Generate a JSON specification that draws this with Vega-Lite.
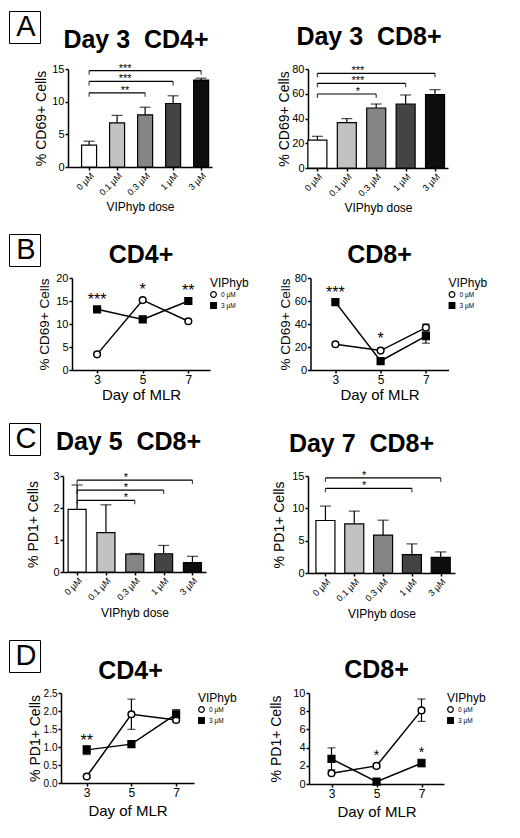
{
  "$schema": "https://vega.github.io/schema/vega-lite/v6.json",
  "background": "white",
  "padding": {"left": 8, "top": 10, "right": 0, "bottom": 0},
  "config": {
    "font": "Liberation Sans",
    "view": {"stroke": null},
    "axis": {
      "grid": false, "domainColor": "black", "domainWidth": 1.5, "tickColor": "black", "tickWidth": 1.5,
      "tickSize": 3, "labelPadding": 1, "labelColor": "black", "titleColor": "black", "labelFontSize": 11,
      "titleFontWeight": "normal", "labelFont": "Liberation Sans", "titleFont": "Liberation Sans"
    },
    "title": {"fontSize": 25, "fontWeight": "bold", "color": "black", "frame": "group", "anchor": "middle"},
    "legend": {
      "titleFontSize": 12, "titleFontWeight": "normal", "titleColor": "black", "labelFontSize": 6.5,
      "labelColor": "black", "symbolSize": 32, "symbolStrokeWidth": 1.2, "symbolStrokeColor": "black",
      "rowPadding": 0, "titlePadding": 1, "padding": 0, "offset": 0, "labelOffset": 4
    }
  },
  "datasets": {
    "a4": [
      {"dose": "0 µM", "mean": 3.35, "hi": 3.95},
      {"dose": "0.1 µM", "mean": 6.75, "hi": 7.9},
      {"dose": "0.3 µM", "mean": 7.98, "hi": 9.15},
      {"dose": "1 µM", "mean": 9.72, "hi": 10.9},
      {"dose": "3 µM", "mean": 13.3, "hi": 13.6}
    ],
    "a4sig": [
      {"dose": "0 µM", "to": "3 µM", "y": 14.75, "stars": "***"},
      {"dose": "0 µM", "to": "1 µM", "y": 13.1, "stars": "***"},
      {"dose": "0 µM", "to": "0.3 µM", "y": 11.35, "stars": "**"}
    ],
    "a8": [
      {"dose": "0 µM", "mean": 22.6, "hi": 25.6},
      {"dose": "0.1 µM", "mean": 36.6, "hi": 39.9},
      {"dose": "0.3 µM", "mean": 48.5, "hi": 51.7},
      {"dose": "1 µM", "mean": 51.7, "hi": 59.0},
      {"dose": "3 µM", "mean": 59.3, "hi": 63.3}
    ],
    "a8sig": [
      {"dose": "0 µM", "to": "3 µM", "y": 76.5, "stars": "***"},
      {"dose": "0 µM", "to": "1 µM", "y": 68.4, "stars": "***"},
      {"dose": "0 µM", "to": "0.3 µM", "y": 59.8, "stars": "*"}
    ],
    "b4": [
      {"day": 3, "group": "0 µM", "mean": 3.4},
      {"day": 5, "group": "0 µM", "mean": 15.2},
      {"day": 7, "group": "0 µM", "mean": 10.6},
      {"day": 3, "group": "3 µM", "mean": 13.2},
      {"day": 5, "group": "3 µM", "mean": 11.0},
      {"day": 7, "group": "3 µM", "mean": 15.0}
    ],
    "b4sig": [
      {"day": 3, "y": 14.2, "stars": "***"},
      {"day": 5, "y": 16.2, "stars": "*"},
      {"day": 7, "y": 16.0, "stars": "**"}
    ],
    "b8": [
      {"day": 3, "group": "0 µM", "mean": 22.4},
      {"day": 5, "group": "0 µM", "mean": 16.9},
      {"day": 7, "group": "0 µM", "mean": 36.9, "lo": 34.0, "hi": 39.9},
      {"day": 3, "group": "3 µM", "mean": 59.0},
      {"day": 5, "group": "3 µM", "mean": 7.8},
      {"day": 7, "group": "3 µM", "mean": 29.4, "lo": 23.3, "hi": 33.0}
    ],
    "b8sig": [
      {"day": 3, "y": 62.6, "stars": "***"},
      {"day": 5, "y": 22.4, "stars": "*"}
    ],
    "c5": [
      {"dose": "0 µM", "mean": 1.96, "hi": 2.72},
      {"dose": "0.1 µM", "mean": 1.23, "hi": 2.1},
      {"dose": "0.3 µM", "mean": 0.56, "hi": 0.58},
      {"dose": "1 µM", "mean": 0.57, "hi": 0.83},
      {"dose": "3 µM", "mean": 0.29, "hi": 0.49}
    ],
    "c5sig": [
      {"dose": "0 µM", "to": "3 µM", "y": 2.87, "stars": "*"},
      {"dose": "0 µM", "to": "1 µM", "y": 2.56, "stars": "*"},
      {"dose": "0 µM", "to": "0.3 µM", "y": 2.24, "stars": "*"}
    ],
    "c7": [
      {"dose": "0 µM", "mean": 8.12, "hi": 10.35},
      {"dose": "0.1 µM", "mean": 7.6, "hi": 9.57},
      {"dose": "0.3 µM", "mean": 5.85, "hi": 8.17},
      {"dose": "1 µM", "mean": 2.85, "hi": 4.5},
      {"dose": "3 µM", "mean": 2.43, "hi": 3.26}
    ],
    "c7sig": [
      {"dose": "0 µM", "to": "3 µM", "y": 14.7, "stars": "*"},
      {"dose": "0 µM", "to": "1 µM", "y": 13.1, "stars": "*"}
    ],
    "d4": [
      {"day": 3, "group": "0 µM", "mean": 0.18},
      {"day": 5, "group": "0 µM", "mean": 1.91, "lo": 1.49, "hi": 2.33},
      {"day": 7, "group": "0 µM", "mean": 1.75, "lo": 1.7, "hi": 1.8},
      {"day": 3, "group": "3 µM", "mean": 0.92, "lo": 0.79, "hi": 1.04},
      {"day": 5, "group": "3 µM", "mean": 1.08},
      {"day": 7, "group": "3 µM", "mean": 1.91, "lo": 1.81, "hi": 2.04}
    ],
    "d4sig": [
      {"day": 3, "y": 1.02, "stars": "**"}
    ],
    "d8": [
      {"day": 3, "group": "0 µM", "mean": 1.18},
      {"day": 5, "group": "0 µM", "mean": 1.99, "lo": 1.8, "hi": 2.2},
      {"day": 7, "group": "0 µM", "mean": 8.09, "lo": 6.88, "hi": 9.34},
      {"day": 3, "group": "3 µM", "mean": 2.76, "lo": 1.55, "hi": 3.97},
      {"day": 5, "group": "3 µM", "mean": 0.26},
      {"day": 7, "group": "3 µM", "mean": 2.28, "lo": 1.91, "hi": 2.72}
    ],
    "d8sig": [
      {"day": 5, "y": 2.67, "stars": "*"},
      {"day": 7, "y": 2.97, "stars": "*"}
    ]
  },
  "spacing": 19,
  "resolve": {"scale": {"color": "independent", "fill": "independent", "shape": "independent", "stroke": "independent"}, "legend": {"color": "independent", "fill": "independent", "shape": "independent", "stroke": "independent"}},
  "vconcat": [
    {
      "spacing": -7,
      "resolve": {"scale": {"color": "independent", "fill": "independent", "shape": "independent", "stroke": "independent"}, "legend": {"color": "independent", "fill": "independent", "shape": "independent", "stroke": "independent"}},
      "hconcat": [
        {
          "width": 29, "height": 1,
          "data": {"values": [{"panel": "A"}]},
          "mark": {"type": "point", "opacity": 0},
          "encoding": {"color": {"field": "panel", "type": "nominal", "scale": {"range": ["white"]},
            "legend": {"orient": "top", "title": null, "offset": 26, "symbolType": "square", "symbolSize": 841, "symbolOpacity": 0,
              "labelFontSize": 29, "labelAlign": "center", "labelOffset": -14.5, "labelColor": "black", "strokeColor": "black", "padding": 0.5}}}
        },
        {
          "spacing": 65,
          "resolve": {"scale": {"color": "independent", "fill": "independent", "shape": "independent", "stroke": "independent"}, "legend": {"color": "independent", "fill": "independent", "shape": "independent", "stroke": "independent"}},
          "hconcat": [
            {
              "width": 144, "height": 98,
              "title": {"text": "Day 3 \u00a0CD4+", "offset": 10, "dx": -4},
              "data": {"name": "a4"},
              "encoding": {
                "x": {"field": "dose", "type": "ordinal", "title": "VIPhyb dose",
                  "scale": {"type": "point", "domain": ["0 µM", "0.1 µM", "0.3 µM", "1 µM", "3 µM"], "padding": 0.57, "align": 0.66},
                  "axis": {"labelAngle": -45, "labelFontSize": 9, "titleFontSize": 12, "titlePadding": 5}},
                "y": {"field": "mean", "type": "quantitative", "title": "% CD69+ Cells",
                  "scale": {"domain": [0, 15], "nice": false},
                  "axis": {"values": [0, 5, 10, 15], "titleFontSize": 14, "titlePadding": 3}}
              },
              "layer": [
                {"mark": {"type": "bar", "size": 15, "stroke": "black", "strokeWidth": 1.2},
                 "encoding": {"fill": {"field": "dose", "type": "ordinal", "legend": null,
                   "scale": {"domain": ["0 µM", "0.1 µM", "0.3 µM", "1 µM", "3 µM"], "range": ["white", "#c2c2c2", "#858585", "#444444", "#0d0d0d"]}}}},
                {"mark": {"type": "rule", "strokeWidth": 1.2, "color": "black"}, "encoding": {"y2": {"field": "hi"}}},
                {"mark": {"type": "tick", "size": 11, "thickness": 1.2, "color": "black"},
                 "encoding": {"y": {"field": "hi", "type": "quantitative", "title": "% CD69+ Cells", "scale": {"domain": [0, 15], "nice": false}}}},
                {"data": {"name": "a4sig"}, "mark": {"type": "rule", "strokeWidth": 1.2, "color": "black"},
                 "encoding": {"x2": {"field": "to"}, "y": {"field": "y", "type": "quantitative", "title": "% CD69+ Cells", "scale": {"domain": [0, 15], "nice": false}}}},
                {"data": {"name": "a4sig"}, "mark": {"type": "tick", "orient": "vertical", "size": 4, "thickness": 1.2, "yOffset": 2, "color": "black"},
                 "encoding": {"y": {"field": "y", "type": "quantitative", "title": "% CD69+ Cells", "scale": {"domain": [0, 15], "nice": false}}}},
                {"data": {"name": "a4sig"}, "mark": {"type": "tick", "orient": "vertical", "size": 4, "thickness": 1.2, "yOffset": 2, "color": "black"},
                 "encoding": {
                   "x": {"field": "to", "type": "ordinal", "title": "VIPhyb dose", "scale": {"type": "point", "domain": ["0 µM", "0.1 µM", "0.3 µM", "1 µM", "3 µM"], "padding": 0.57, "align": 0.66}},
                   "y": {"field": "y", "type": "quantitative", "title": "% CD69+ Cells", "scale": {"domain": [0, 15], "nice": false}}}},
                {"data": {"name": "a4sig"}, "mark": {"type": "text", "fontSize": 11, "dx": 8, "dy": 1, "baseline": "alphabetic", "color": "black"},
                 "encoding": {
                   "x": {"datum": "0.1 µM", "type": "ordinal", "scale": {"type": "point", "domain": ["0 µM", "0.1 µM", "0.3 µM", "1 µM", "3 µM"], "padding": 0.57, "align": 0.66}},
                   "y": {"field": "y", "type": "quantitative", "title": "% CD69+ Cells", "scale": {"domain": [0, 15], "nice": false}},
                   "text": {"field": "stars"}}}
              ]
            },
            {
              "width": 140, "height": 99,
              "title": {"text": "Day 3 \u00a0CD8+", "offset": 13, "dx": -9},
              "data": {"name": "a8"},
              "encoding": {
                "x": {"field": "dose", "type": "ordinal", "title": "VIPhyb dose",
                  "scale": {"type": "point", "domain": ["0 µM", "0.1 µM", "0.3 µM", "1 µM", "3 µM"], "padding": 0.38, "align": 0.42},
                  "axis": {"labelAngle": -45, "labelFontSize": 9, "titleFontSize": 12, "titlePadding": 5}},
                "y": {"field": "mean", "type": "quantitative", "title": "% CD69+ Cells",
                  "scale": {"domain": [0, 80], "nice": false},
                  "axis": {"values": [0, 20, 40, 60, 80], "titleFontSize": 14, "titlePadding": 0}}
              },
              "layer": [
                {"mark": {"type": "bar", "size": 19, "stroke": "black", "strokeWidth": 1.2},
                 "encoding": {"fill": {"field": "dose", "type": "ordinal", "legend": null,
                   "scale": {"domain": ["0 µM", "0.1 µM", "0.3 µM", "1 µM", "3 µM"], "range": ["white", "#c2c2c2", "#858585", "#444444", "#0d0d0d"]}}}},
                {"mark": {"type": "rule", "strokeWidth": 1.2, "color": "black"}, "encoding": {"y2": {"field": "hi"}}},
                {"mark": {"type": "tick", "size": 11, "thickness": 1.2, "color": "black"},
                 "encoding": {"y": {"field": "hi", "type": "quantitative", "title": "% CD69+ Cells", "scale": {"domain": [0, 80], "nice": false}}}},
                {"data": {"name": "a8sig"}, "mark": {"type": "rule", "strokeWidth": 1.2, "color": "black"},
                 "encoding": {"x2": {"field": "to"}, "y": {"field": "y", "type": "quantitative", "title": "% CD69+ Cells", "scale": {"domain": [0, 80], "nice": false}}}},
                {"data": {"name": "a8sig"}, "mark": {"type": "tick", "orient": "vertical", "size": 4, "thickness": 1.2, "yOffset": 2, "color": "black"},
                 "encoding": {"y": {"field": "y", "type": "quantitative", "title": "% CD69+ Cells", "scale": {"domain": [0, 80], "nice": false}}}},
                {"data": {"name": "a8sig"}, "mark": {"type": "tick", "orient": "vertical", "size": 4, "thickness": 1.2, "yOffset": 2, "color": "black"},
                 "encoding": {
                   "x": {"field": "to", "type": "ordinal", "title": "VIPhyb dose", "scale": {"type": "point", "domain": ["0 µM", "0.1 µM", "0.3 µM", "1 µM", "3 µM"], "padding": 0.38, "align": 0.42}},
                   "y": {"field": "y", "type": "quantitative", "title": "% CD69+ Cells", "scale": {"domain": [0, 80], "nice": false}}}},
                {"data": {"name": "a8sig"}, "mark": {"type": "text", "fontSize": 11, "dx": 11, "dy": 1, "baseline": "alphabetic", "color": "black"},
                 "encoding": {
                   "x": {"datum": "0.1 µM", "type": "ordinal", "scale": {"type": "point", "domain": ["0 µM", "0.1 µM", "0.3 µM", "1 µM", "3 µM"], "padding": 0.38, "align": 0.42}},
                   "y": {"field": "y", "type": "quantitative", "title": "% CD69+ Cells", "scale": {"domain": [0, 80], "nice": false}},
                   "text": {"field": "stars"}}}
              ]
            }
          ]
        }
      ]
    },
    {
      "spacing": -4,
      "resolve": {"scale": {"color": "independent", "fill": "independent", "shape": "independent", "stroke": "independent"}, "legend": {"color": "independent", "fill": "independent", "shape": "independent", "stroke": "independent"}},
      "hconcat": [
        {
          "width": 29, "height": 1,
          "data": {"values": [{"panel": "B"}]},
          "mark": {"type": "point", "opacity": 0},
          "encoding": {"color": {"field": "panel", "type": "nominal", "scale": {"range": ["white"]},
            "legend": {"orient": "top", "title": null, "offset": 12, "symbolType": "square", "symbolSize": 841, "symbolOpacity": 0,
              "labelFontSize": 29, "labelAlign": "center", "labelOffset": -14.5, "labelColor": "black", "strokeColor": "black", "padding": 0.5}}}
        },
        {
          "spacing": 28.5,
          "resolve": {"scale": {"color": "independent", "fill": "independent", "shape": "independent", "stroke": "independent"}, "legend": {"color": "independent", "fill": "independent", "shape": "independent", "stroke": "independent"}},
          "hconcat": [
            {
              "width": 138, "height": 92,
              "title": {"text": "CD4+", "offset": 4},
              "data": {"name": "b4"},
              "encoding": {
                "x": {"field": "day", "type": "quantitative", "title": "Day of MLR",
                  "scale": {"domain": [1.9, 7.95], "nice": false, "zero": false},
                  "axis": {"values": [3, 5, 7], "labelFontSize": 12, "titleFontSize": 15, "titlePadding": 2.5}},
                "y": {"field": "mean", "type": "quantitative", "title": "% CD69+ Cells",
                  "scale": {"domain": [0, 20], "nice": false},
                  "axis": {"values": [0, 5, 10, 15, 20], "titleFontSize": 13.5, "titlePadding": 4}}
              },
              "layer": [
                {"mark": {"type": "line", "color": "black", "strokeWidth": 1.5}, "encoding": {"detail": {"field": "group"}}},
                {"mark": {"type": "point", "size": 45, "strokeWidth": 1.5, "opacity": 1},
                 "encoding": {
                   "shape": {"field": "group", "type": "nominal", "title": "VIPhyb", "scale": {"domain": ["0 µM", "3 µM"], "range": ["circle", "square"]}},
                   "fill": {"field": "group", "type": "nominal", "title": "VIPhyb", "scale": {"domain": ["0 µM", "3 µM"], "range": ["white", "black"]}},
                   "stroke": {"field": "group", "type": "nominal", "title": "VIPhyb", "scale": {"domain": ["0 µM", "3 µM"], "range": ["black", "black"]}}}},
                {"data": {"name": "b4sig"}, "mark": {"type": "text", "fontSize": 16, "baseline": "alphabetic", "color": "black"},
                 "encoding": {
                   "y": {"field": "y", "type": "quantitative", "title": "% CD69+ Cells", "scale": {"domain": [0, 20], "nice": false}},
                   "text": {"field": "stars"}}}
              ]
            },
            {
              "width": 138, "height": 92,
              "title": {"text": "CD8+", "offset": 4},
              "data": {"name": "b8"},
              "encoding": {
                "x": {"field": "day", "type": "quantitative", "title": "Day of MLR",
                  "scale": {"domain": [1.9, 8.0], "nice": false, "zero": false},
                  "axis": {"values": [3, 5, 7], "labelFontSize": 12, "titleFontSize": 15, "titlePadding": 2.5}},
                "y": {"field": "mean", "type": "quantitative", "title": "% CD69+ Cells",
                  "scale": {"domain": [0, 80], "nice": false},
                  "axis": {"values": [0, 20, 40, 60, 80], "titleFontSize": 13.5, "titlePadding": 2}}
              },
              "layer": [
                {"mark": {"type": "line", "color": "black", "strokeWidth": 1.5}, "encoding": {"detail": {"field": "group"}}},
                {"transform": [{"filter": "isValid(datum.lo)"}],
                 "mark": {"type": "errorbar", "ticks": true, "size": 8, "thickness": 1.2, "color": "black"},
                 "encoding": {
                   "y": {"field": "lo", "type": "quantitative", "title": "% CD69+ Cells", "scale": {"domain": [0, 80], "nice": false}},
                   "y2": {"field": "hi"}}},
                {"mark": {"type": "point", "size": 45, "strokeWidth": 1.5, "opacity": 1},
                 "encoding": {
                   "shape": {"field": "group", "type": "nominal", "title": "VIPhyb", "scale": {"domain": ["0 µM", "3 µM"], "range": ["circle", "square"]}},
                   "fill": {"field": "group", "type": "nominal", "title": "VIPhyb", "scale": {"domain": ["0 µM", "3 µM"], "range": ["white", "black"]}},
                   "stroke": {"field": "group", "type": "nominal", "title": "VIPhyb", "scale": {"domain": ["0 µM", "3 µM"], "range": ["black", "black"]}}}},
                {"data": {"name": "b8sig"}, "mark": {"type": "text", "fontSize": 16, "baseline": "alphabetic", "color": "black"},
                 "encoding": {
                   "y": {"field": "y", "type": "quantitative", "title": "% CD69+ Cells", "scale": {"domain": [0, 80], "nice": false}},
                   "text": {"field": "stars"}}}
              ]
            }
          ]
        }
      ]
    },
    {
      "spacing": -15,
      "resolve": {"scale": {"color": "independent", "fill": "independent", "shape": "independent", "stroke": "independent"}, "legend": {"color": "independent", "fill": "independent", "shape": "independent", "stroke": "independent"}},
      "hconcat": [
        {
          "width": 29, "height": 1,
          "data": {"values": [{"panel": "C"}]},
          "mark": {"type": "point", "opacity": 0},
          "encoding": {"color": {"field": "panel", "type": "nominal", "scale": {"range": ["white"]},
            "legend": {"orient": "top", "title": null, "offset": 21, "symbolType": "square", "symbolSize": 841, "symbolOpacity": 0,
              "labelFontSize": 29, "labelAlign": "center", "labelOffset": -14.5, "labelColor": "black", "strokeColor": "black", "padding": 0.5}}}
        },
        {
          "spacing": 66,
          "resolve": {"scale": {"color": "independent", "fill": "independent", "shape": "independent", "stroke": "independent"}, "legend": {"color": "independent", "fill": "independent", "shape": "independent", "stroke": "independent"}},
          "hconcat": [
            {
              "width": 143, "height": 96,
              "title": {"text": "Day 5 \u00a0CD8+", "offset": 15.5, "dx": -6},
              "data": {"name": "c5"},
              "encoding": {
                "x": {"field": "dose", "type": "ordinal", "title": "VIPhyb dose",
                  "scale": {"type": "point", "domain": ["0 µM", "0.1 µM", "0.3 µM", "1 µM", "3 µM"], "padding": 0.48, "align": 0.51},
                  "axis": {"labelAngle": -45, "labelFontSize": 9, "titleFontSize": 12, "titlePadding": 6}},
                "y": {"field": "mean", "type": "quantitative", "title": "% PD1+ Cells",
                  "scale": {"domain": [0, 3], "nice": false},
                  "axis": {"values": [0, 1, 2, 3], "titleFontSize": 14, "titlePadding": 12}}
              },
              "layer": [
                {"mark": {"type": "bar", "size": 18, "stroke": "black", "strokeWidth": 1.2},
                 "encoding": {"fill": {"field": "dose", "type": "ordinal", "legend": null,
                   "scale": {"domain": ["0 µM", "0.1 µM", "0.3 µM", "1 µM", "3 µM"], "range": ["white", "#c2c2c2", "#858585", "#444444", "#0d0d0d"]}}}},
                {"mark": {"type": "rule", "strokeWidth": 1.2, "color": "black"}, "encoding": {"y2": {"field": "hi"}}},
                {"mark": {"type": "tick", "size": 11, "thickness": 1.2, "color": "black"},
                 "encoding": {"y": {"field": "hi", "type": "quantitative", "title": "% PD1+ Cells", "scale": {"domain": [0, 3], "nice": false}}}},
                {"data": {"name": "c5sig"}, "mark": {"type": "rule", "strokeWidth": 1.2, "color": "black"},
                 "encoding": {"x2": {"field": "to"}, "y": {"field": "y", "type": "quantitative", "title": "% PD1+ Cells", "scale": {"domain": [0, 3], "nice": false}}}},
                {"data": {"name": "c5sig"}, "mark": {"type": "tick", "orient": "vertical", "size": 4, "thickness": 1.2, "yOffset": 2, "color": "black"},
                 "encoding": {"y": {"field": "y", "type": "quantitative", "title": "% PD1+ Cells", "scale": {"domain": [0, 3], "nice": false}}}},
                {"data": {"name": "c5sig"}, "mark": {"type": "tick", "orient": "vertical", "size": 4, "thickness": 1.2, "yOffset": 2, "color": "black"},
                 "encoding": {
                   "x": {"field": "to", "type": "ordinal", "title": "VIPhyb dose", "scale": {"type": "point", "domain": ["0 µM", "0.1 µM", "0.3 µM", "1 µM", "3 µM"], "padding": 0.48, "align": 0.51}},
                   "y": {"field": "y", "type": "quantitative", "title": "% PD1+ Cells", "scale": {"domain": [0, 3], "nice": false}}}},
                {"data": {"name": "c5sig"}, "mark": {"type": "text", "fontSize": 11, "dx": -9, "dy": 1, "baseline": "alphabetic", "color": "black"},
                 "encoding": {
                   "x": {"datum": "0.3 µM", "type": "ordinal", "scale": {"type": "point", "domain": ["0 µM", "0.1 µM", "0.3 µM", "1 µM", "3 µM"], "padding": 0.48, "align": 0.51}},
                   "y": {"field": "y", "type": "quantitative", "title": "% PD1+ Cells", "scale": {"domain": [0, 3], "nice": false}},
                   "text": {"field": "stars"}}}
              ]
            },
            {
              "width": 147, "height": 97,
              "title": {"text": "Day 7 \u00a0CD8+", "offset": 13.3, "dx": -20},
              "data": {"name": "c7"},
              "encoding": {
                "x": {"field": "dose", "type": "ordinal", "title": "VIPhyb dose",
                  "scale": {"type": "point", "domain": ["0 µM", "0.1 µM", "0.3 µM", "1 µM", "3 µM"], "padding": 0.55, "align": 0.55},
                  "axis": {"labelAngle": -45, "labelFontSize": 9, "titleFontSize": 12, "titlePadding": 6}},
                "y": {"field": "mean", "type": "quantitative", "title": "% PD1+ Cells",
                  "scale": {"domain": [0, 15], "nice": false},
                  "axis": {"values": [0, 5, 10, 15], "titleFontSize": 14, "titlePadding": 5.5}}
              },
              "layer": [
                {"mark": {"type": "bar", "size": 19, "stroke": "black", "strokeWidth": 1.2},
                 "encoding": {"fill": {"field": "dose", "type": "ordinal", "legend": null,
                   "scale": {"domain": ["0 µM", "0.1 µM", "0.3 µM", "1 µM", "3 µM"], "range": ["white", "#c2c2c2", "#858585", "#444444", "#0d0d0d"]}}}},
                {"mark": {"type": "rule", "strokeWidth": 1.2, "color": "black"}, "encoding": {"y2": {"field": "hi"}}},
                {"mark": {"type": "tick", "size": 11, "thickness": 1.2, "color": "black"},
                 "encoding": {"y": {"field": "hi", "type": "quantitative", "title": "% PD1+ Cells", "scale": {"domain": [0, 15], "nice": false}}}},
                {"data": {"name": "c7sig"}, "mark": {"type": "rule", "strokeWidth": 1.2, "color": "black"},
                 "encoding": {"x2": {"field": "to"}, "y": {"field": "y", "type": "quantitative", "title": "% PD1+ Cells", "scale": {"domain": [0, 15], "nice": false}}}},
                {"data": {"name": "c7sig"}, "mark": {"type": "tick", "orient": "vertical", "size": 4, "thickness": 1.2, "yOffset": 2, "color": "black"},
                 "encoding": {"y": {"field": "y", "type": "quantitative", "title": "% PD1+ Cells", "scale": {"domain": [0, 15], "nice": false}}}},
                {"data": {"name": "c7sig"}, "mark": {"type": "tick", "orient": "vertical", "size": 4, "thickness": 1.2, "yOffset": 2, "color": "black"},
                 "encoding": {
                   "x": {"field": "to", "type": "ordinal", "title": "VIPhyb dose", "scale": {"type": "point", "domain": ["0 µM", "0.1 µM", "0.3 µM", "1 µM", "3 µM"], "padding": 0.55, "align": 0.55}},
                   "y": {"field": "y", "type": "quantitative", "title": "% PD1+ Cells", "scale": {"domain": [0, 15], "nice": false}}}},
                {"data": {"name": "c7sig"}, "mark": {"type": "text", "fontSize": 11, "dx": 10, "dy": 1, "baseline": "alphabetic", "color": "black"},
                 "encoding": {
                   "x": {"datum": "0.1 µM", "type": "ordinal", "scale": {"type": "point", "domain": ["0 µM", "0.1 µM", "0.3 µM", "1 µM", "3 µM"], "padding": 0.55, "align": 0.55}},
                   "y": {"field": "y", "type": "quantitative", "title": "% PD1+ Cells", "scale": {"domain": [0, 15], "nice": false}},
                   "text": {"field": "stars"}}}
              ]
            }
          ]
        }
      ]
    },
    {
      "spacing": -13,
      "resolve": {"scale": {"color": "independent", "fill": "independent", "shape": "independent", "stroke": "independent"}, "legend": {"color": "independent", "fill": "independent", "shape": "independent", "stroke": "independent"}},
      "hconcat": [
        {
          "width": 29, "height": 1,
          "data": {"values": [{"panel": "D"}]},
          "mark": {"type": "point", "opacity": 0},
          "encoding": {"color": {"field": "panel", "type": "nominal", "scale": {"range": ["white"]},
            "legend": {"orient": "top", "title": null, "offset": 21, "symbolType": "square", "symbolSize": 841, "symbolOpacity": 0,
              "labelFontSize": 29, "labelAlign": "center", "labelOffset": -14.5, "labelColor": "black", "strokeColor": "black", "padding": 0.5}}}
        },
        {
          "spacing": 32,
          "resolve": {"scale": {"color": "independent", "fill": "independent", "shape": "independent", "stroke": "independent"}, "legend": {"color": "independent", "fill": "independent", "shape": "independent", "stroke": "independent"}},
          "hconcat": [
            {
              "width": 133, "height": 90,
              "title": {"text": "CD4+", "offset": 4.3, "dx": 3},
              "data": {"name": "d4"},
              "encoding": {
                "x": {"field": "day", "type": "quantitative", "title": "Day of MLR",
                  "scale": {"domain": [1.85, 7.8], "nice": false, "zero": false},
                  "axis": {"values": [3, 5, 7], "labelFontSize": 12, "titleFontSize": 15, "titlePadding": 5}},
                "y": {"field": "mean", "type": "quantitative", "title": "% PD1+ Cells",
                  "scale": {"domain": [0, 2.5], "nice": false},
                  "axis": {"values": [0, 0.5, 1, 1.5, 2, 2.5], "format": ".1f", "labelFontSize": 10, "titleFontSize": 14, "titlePadding": 1}}
              },
              "layer": [
                {"mark": {"type": "line", "color": "black", "strokeWidth": 1.5}, "encoding": {"detail": {"field": "group"}}},
                {"transform": [{"filter": "isValid(datum.lo)"}],
                 "mark": {"type": "errorbar", "ticks": true, "size": 8, "thickness": 1.2, "color": "black"},
                 "encoding": {
                   "y": {"field": "lo", "type": "quantitative", "title": "% PD1+ Cells", "scale": {"domain": [0, 2.5], "nice": false}},
                   "y2": {"field": "hi"}}},
                {"mark": {"type": "point", "size": 45, "strokeWidth": 1.5, "opacity": 1},
                 "encoding": {
                   "shape": {"field": "group", "type": "nominal", "title": "VIPhyb", "legend": {"offset": 4}, "scale": {"domain": ["0 µM", "3 µM"], "range": ["circle", "square"]}},
                   "fill": {"field": "group", "type": "nominal", "title": "VIPhyb", "legend": {"offset": 4}, "scale": {"domain": ["0 µM", "3 µM"], "range": ["white", "black"]}},
                   "stroke": {"field": "group", "type": "nominal", "title": "VIPhyb", "legend": {"offset": 4}, "scale": {"domain": ["0 µM", "3 µM"], "range": ["black", "black"]}}}},
                {"data": {"name": "d4sig"}, "mark": {"type": "text", "fontSize": 16, "baseline": "alphabetic", "color": "black"},
                 "encoding": {
                   "y": {"field": "y", "type": "quantitative", "title": "% PD1+ Cells", "scale": {"domain": [0, 2.5], "nice": false}},
                   "text": {"field": "stars"}}}
              ]
            },
            {
              "width": 135, "height": 91,
              "title": {"text": "CD8+", "offset": 4.3},
              "data": {"name": "d8"},
              "encoding": {
                "x": {"field": "day", "type": "quantitative", "title": "Day of MLR",
                  "scale": {"domain": [2, 8], "nice": false, "zero": false},
                  "axis": {"values": [3, 5, 7], "labelFontSize": 12, "titleFontSize": 15, "titlePadding": 5}},
                "y": {"field": "mean", "type": "quantitative", "title": "% PD1+ Cells",
                  "scale": {"domain": [0, 10], "nice": false},
                  "axis": {"values": [0, 2, 4, 6, 8, 10], "titleFontSize": 14, "titlePadding": 9}}
              },
              "layer": [
                {"mark": {"type": "line", "color": "black", "strokeWidth": 1.5}, "encoding": {"detail": {"field": "group"}}},
                {"transform": [{"filter": "isValid(datum.lo)"}],
                 "mark": {"type": "errorbar", "ticks": true, "size": 8, "thickness": 1.2, "color": "black"},
                 "encoding": {
                   "y": {"field": "lo", "type": "quantitative", "title": "% PD1+ Cells", "scale": {"domain": [0, 10], "nice": false}},
                   "y2": {"field": "hi"}}},
                {"mark": {"type": "point", "size": 45, "strokeWidth": 1.5, "opacity": 1},
                 "encoding": {
                   "shape": {"field": "group", "type": "nominal", "title": "VIPhyb", "legend": {"offset": 3}, "scale": {"domain": ["0 µM", "3 µM"], "range": ["circle", "square"]}},
                   "fill": {"field": "group", "type": "nominal", "title": "VIPhyb", "legend": {"offset": 3}, "scale": {"domain": ["0 µM", "3 µM"], "range": ["white", "black"]}},
                   "stroke": {"field": "group", "type": "nominal", "title": "VIPhyb", "legend": {"offset": 3}, "scale": {"domain": ["0 µM", "3 µM"], "range": ["black", "black"]}}}},
                {"data": {"name": "d8sig"}, "mark": {"type": "text", "fontSize": 14, "baseline": "alphabetic", "color": "black"},
                 "encoding": {
                   "y": {"field": "y", "type": "quantitative", "title": "% PD1+ Cells", "scale": {"domain": [0, 10], "nice": false}},
                   "text": {"field": "stars"}}}
              ]
            }
          ]
        }
      ]
    }
  ]
}
